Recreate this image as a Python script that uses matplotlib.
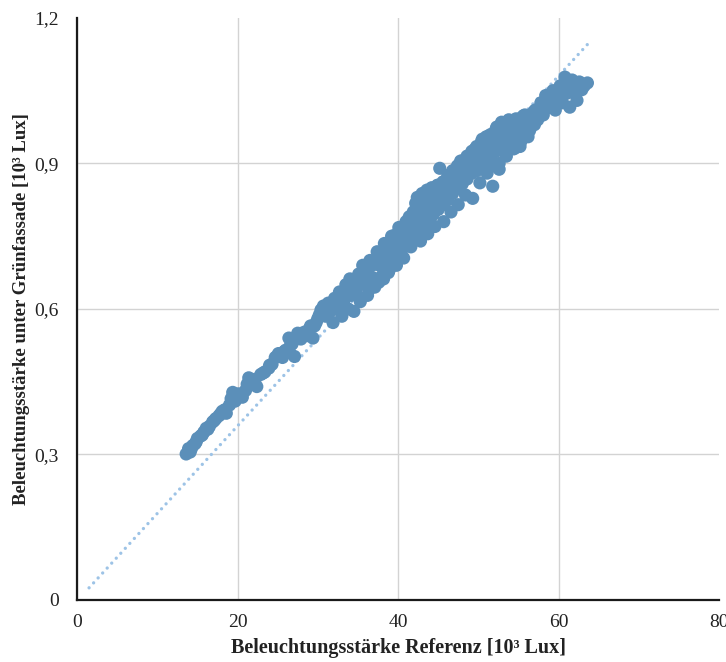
import matplotlib
matplotlib.use("Agg")
import matplotlib.pyplot as plt
import numpy as np

# Beleuchtungsstärke Referenz [10^3 Lux]
ref_x = [
    13.6, 13.9, 14.1, 14.4, 14.7, 15.0, 15.4, 15.8, 16.1, 16.5,
    16.9, 17.3, 17.7, 18.1, 18.6, 19.0, 19.4, 19.7, 20.1, 20.6, 21.0,
    21.4, 21.9, 22.4, 22.9, 23.4, 23.9, 24.3, 24.7, 25.1, 25.6, 26.0,
    26.4, 26.8, 27.1, 27.5, 27.9, 28.3, 28.7, 29.1, 29.4, 29.8, 30.2,
    14.25, 14.85, 15.6, 16.3, 17.1, 17.9, 18.4, 19.2, 20.4, 21.2, 22.2, 23.2,
    24.0, 24.9, 25.8, 26.6, 28.0, 28.9, 29.6, 30.0, 30.9, 31.4, 31.8,
    30.4, 30.7, 31.0, 31.3, 31.6, 31.9, 32.1, 32.4, 32.7, 33.0, 33.2, 33.5, 33.8, 34.0,
    34.2, 34.5, 34.8, 35.1, 35.3, 35.6, 35.9, 36.2, 36.5, 36.8, 37.1, 37.4, 37.7, 38.0,
    38.3, 38.6, 38.9, 39.2, 39.5, 39.8, 40.1, 40.4, 40.7, 41.0, 41.3, 41.6, 41.9, 42.2,
    42.5, 42.8, 43.1, 43.4, 43.7, 44.0, 44.3, 44.6, 44.9, 45.2, 45.4, 45.7, 46.0, 46.3,
    46.6, 46.9, 47.2, 47.5, 47.8, 48.1, 48.4, 48.7, 49.0, 49.3, 49.6, 49.9, 50.2,
    50.5, 50.8, 51.1, 51.4, 51.8, 52.0, 52.3, 52.6, 52.9, 53.2, 53.5, 53.8, 54.1,
    54.4, 54.7, 55.0, 55.3, 55.6, 55.9, 56.2, 56.5, 56.8, 57.1, 57.4, 57.8, 58.1,
    58.4, 58.7, 59.0, 59.3, 59.6, 59.9, 60.2, 60.5, 60.8,
    61.1, 61.4, 61.7, 62.0, 62.3, 62.6, 62.9, 63.2, 63.6,
    32.25, 32.75, 33.25, 33.75, 34.25, 34.75, 35.25, 35.75, 36.25, 36.75, 37.25, 37.75, 38.25, 38.75, 39.25, 39.75,
    40.25, 40.75, 41.25, 41.75, 42.25, 42.75, 43.25, 43.75, 44.25, 44.75, 45.25, 45.75, 46.25, 46.75, 47.25, 47.75,
    48.25, 48.75, 49.25, 49.75, 50.25, 50.75, 51.25, 51.75, 52.25, 52.75, 53.25, 53.75, 54.25, 54.75, 55.25, 55.75,
    56.25, 56.75, 57.25, 57.75, 58.25, 58.75, 59.25, 59.75, 60.25, 60.75, 61.25, 61.75, 62.25, 62.75,
    38.4, 39.0, 39.6, 40.2, 40.8, 41.4, 42.0, 42.6, 43.2, 43.8, 44.4, 45.0, 45.6, 46.2, 46.8, 47.4,
    48.0, 48.6, 49.2, 49.8, 50.4, 51.0, 51.6, 52.2, 52.8, 53.4, 54.0, 54.6, 55.2, 55.8, 56.4, 57.0,
    38.4, 39.0, 39.6, 40.2, 40.8, 41.4, 42.0, 42.6, 43.2, 43.8, 44.4, 45.0, 45.6, 46.2, 46.8, 47.4,
    48.0, 48.6, 49.2, 49.8, 50.4, 51.0, 51.6, 52.2, 52.8, 53.4, 54.0, 54.6, 55.2, 55.8, 56.4, 57.0,
    36.4, 37.0, 37.6, 38.2, 38.8, 42.4, 43.0, 43.6, 44.2, 52.0, 52.6, 54.6, 55.2,
]
# Beleuchtungsstärke unter Grünfassade [10^3 Lux]
gruen_y = [
    0.301, 0.312, 0.305, 0.318, 0.322, 0.333, 0.338, 0.346, 0.354, 0.358,
    0.367, 0.374, 0.380, 0.389, 0.385, 0.402, 0.428, 0.410, 0.425, 0.418, 0.432,
    0.458, 0.452, 0.440, 0.465, 0.470, 0.478, 0.486, 0.500, 0.508, 0.500, 0.515,
    0.540, 0.528, 0.502, 0.550, 0.538, 0.552, 0.545, 0.565, 0.540, 0.572, 0.588,
    0.312, 0.326, 0.340, 0.352, 0.370, 0.384, 0.392, 0.415, 0.422, 0.445, 0.455, 0.468,
    0.484, 0.502, 0.512, 0.525, 0.548, 0.558, 0.565, 0.580, 0.595, 0.600, 0.612,
    0.598, 0.606, 0.585, 0.612, 0.596, 0.572, 0.622, 0.600, 0.635, 0.585, 0.615, 0.650, 0.600, 0.662,
    0.628, 0.595, 0.645, 0.672, 0.615, 0.690, 0.650, 0.628, 0.700, 0.665, 0.645, 0.718, 0.690, 0.668,
    0.735, 0.705, 0.680, 0.750, 0.720, 0.690, 0.768, 0.738, 0.705, 0.780, 0.750, 0.728, 0.800, 0.818,
    0.765, 0.740, 0.812, 0.785, 0.755, 0.835, 0.800, 0.770, 0.855, 0.890, 0.815, 0.780, 0.865, 0.835,
    0.800, 0.885, 0.850, 0.815, 0.905, 0.870, 0.835, 0.915, 0.880, 0.828, 0.930, 0.895, 0.860,
    0.950, 0.915, 0.880, 0.958, 0.853, 0.930, 0.975, 0.900, 0.985, 0.945, 0.915, 0.990, 0.960,
    0.930, 0.992, 0.970, 0.945, 0.998, 0.975, 0.955, 1.000, 0.980, 1.010, 0.990, 1.025, 1.000,
    1.040, 1.015, 1.030, 1.050, 1.010, 1.040, 1.060, 1.025, 1.078,
    1.045, 1.016, 1.072, 1.050, 1.030, 1.068, 1.052, 1.060, 1.066,
    0.610, 0.620, 0.625, 0.628, 0.640, 0.635, 0.650, 0.662, 0.670, 0.690, 0.695, 0.712, 0.710, 0.728, 0.725, 0.742,
    0.740, 0.758, 0.765, 0.775, 0.785, 0.790, 0.800, 0.800, 0.815, 0.820, 0.830, 0.845, 0.850, 0.860, 0.870, 0.875,
    0.890, 0.895, 0.905, 0.910, 0.920, 0.930, 0.930, 0.945, 0.950, 0.955, 0.960, 0.965, 0.975, 0.970, 0.985, 0.990,
    0.990, 1.000, 1.005, 1.012, 1.020, 1.035, 1.030, 1.045, 1.045, 1.050, 1.060, 1.055, 1.060, 1.060,
    0.722, 0.735, 0.752, 0.755, 0.772, 0.790, 0.800, 0.808, 0.825, 0.830, 0.842, 0.855, 0.862, 0.875, 0.885, 0.895,
    0.905, 0.915, 0.925, 0.935, 0.945, 0.955, 0.960, 0.970, 0.975, 0.980, 0.985, 0.985, 0.992, 1.000, 1.000, 1.008,
    0.688, 0.700, 0.712, 0.715, 0.728, 0.745, 0.752, 0.765, 0.775, 0.782, 0.795, 0.805, 0.815, 0.825, 0.838, 0.850,
    0.858, 0.868, 0.880, 0.885, 0.898, 0.905, 0.915, 0.925, 0.935, 0.940, 0.948, 0.955, 0.960, 0.965, 0.968, 0.980,
    0.640, 0.648, 0.655, 0.662, 0.675, 0.830, 0.838, 0.845, 0.850, 0.895, 0.888, 0.932, 0.935,
]

# Trendlinie (linear)
trend_slope = 0.01804
trend_intercept = -0.002
trend_x = [1.5, 63.8]

x_ticks = [0, 20, 40, 60, 80]
y_ticks = [0, 0.3, 0.6, 0.9, 1.2]
y_ticklabels = ["0", "0,3", "0,6", "0,9", "1,2"]

plt.rcParams['font.family'] = ['Liberation Serif', 'DejaVu Serif']

fig = plt.figure(figsize=(7.26, 6.62), dpi=100)
ax = fig.add_axes([0.1061, 0.0937, 0.8843, 0.8792])

ax.scatter(ref_x, gruen_y, s=90, color='#5B8FB9', edgecolors='none', zorder=3)

# trendline liegt unter den Punkten
ty = np.polyval([trend_slope, trend_intercept], trend_x)
ax.plot(trend_x, ty, color='#9DC3E6', linewidth=2.4, linestyle=(0, (0.01, 2.0)),
        dash_capstyle='round', zorder=2)

ax.set_xlim(0, 80)
ax.set_ylim(0, 1.2)
ax.set_xticks(x_ticks)
ax.set_yticks(y_ticks)
ax.set_yticklabels(y_ticklabels)
ax.tick_params(length=0, labelsize=14, colors='#222222')
ax.tick_params(axis='x', pad=10)
ax.tick_params(axis='y', pad=13)

ax.grid(True, color='#D3D3D3', linewidth=1.0, zorder=0)
ax.set_axisbelow(True)
ax.xaxis.get_gridlines()[-1].set_visible(False)
ax.yaxis.get_gridlines()[-1].set_visible(False)

for side in ['top', 'right']:
    ax.spines[side].set_visible(False)
for side in ['left', 'bottom']:
    ax.spines[side].set_color('#1a1a1a')
    ax.spines[side].set_linewidth(1.6)

ax.set_xlabel("Beleuchtungsstärke Referenz [10³ Lux]", fontsize=14.5, fontweight='bold',
              color='#222222', labelpad=5)
ax.set_ylabel("Beleuchtungsstärke unter Grünfassade [10³ Lux]", fontsize=13.5, fontweight='bold',
              color='#222222', labelpad=3)

fig.savefig("out.png", dpi=100)
